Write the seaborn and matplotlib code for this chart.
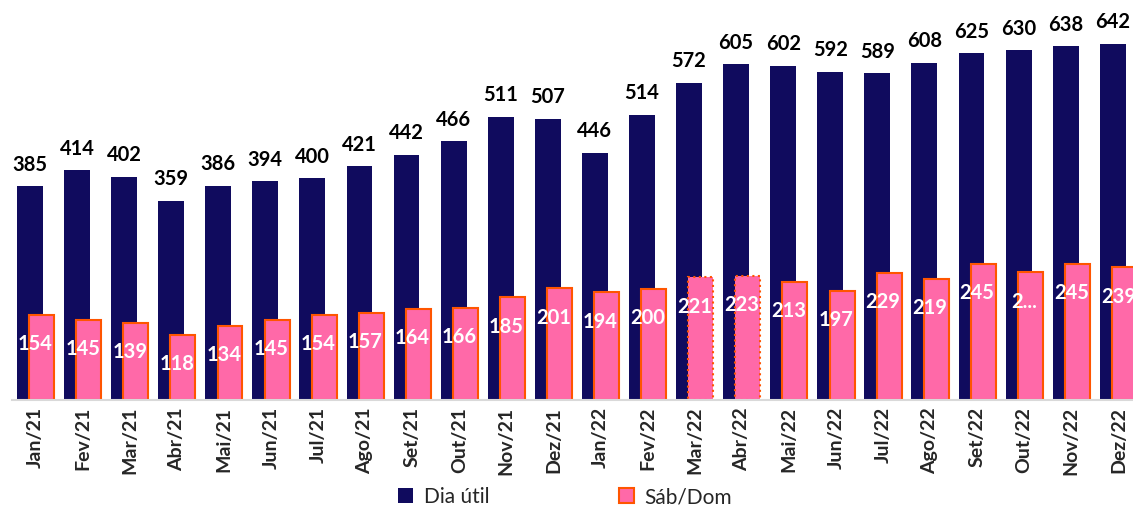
import numpy as np
import pandas as pd
import matplotlib
matplotlib.use("Agg")
import matplotlib.pyplot as plt
import seaborn as sns
from matplotlib.patches import Patch

meses = ['Jan/21', 'Fev/21', 'Mar/21', 'Abr/21', 'Mai/21', 'Jun/21', 'Jul/21', 'Ago/21',
         'Set/21', 'Out/21', 'Nov/21', 'Dez/21', 'Jan/22', 'Fev/22', 'Mar/22', 'Abr/22',
         'Mai/22', 'Jun/22', 'Jul/22', 'Ago/22', 'Set/22', 'Out/22', 'Nov/22', 'Dez/22']
dia_util = [385, 414, 402, 359, 386, 394, 400, 421, 442, 466, 511, 507,
            446, 514, 572, 605, 602, 592, 589, 608, 625, 630, 638, 642]
sab_dom = [154, 145, 139, 118, 134, 145, 154, 157, 164, 166, 185, 201,
           194, 200, 221, 223, 213, 197, 229, 219, 245, 230, 245, 239]
# rotulo cortado no original (Out/22)
rotulos_sab_dom = [str(v) for v in sab_dom]
rotulos_sab_dom[21] = '2...'

cor_util = '#100B5E'
cor_fds = '#FF69A8'
cor_borda = '#FF5500'

sns.set_style("white")
plt.rcParams['font.family'] = ['Lato', 'DejaVu Sans']

fig = plt.figure(figsize=(11.33, 5.09), dpi=100)
ax = fig.add_axes([12 / 1133, 109 / 509, 1121 / 1133, 400 / 509])

pos = np.arange(len(meses))
df = pd.DataFrame({'pos': pos, 'util': dia_util, 'fds': sab_dom})

sns.barplot(data=df.assign(x=pos - 0.12), x='x', y='util', native_scale=True,
            width=0.55, color=cor_util, saturation=1, edgecolor='none', ax=ax)
sns.barplot(data=df.assign(x=pos + 0.13), x='x', y='fds', native_scale=True,
            width=0.53, color=cor_fds, saturation=1, edgecolor=cor_borda,
            linewidth=1.5, ax=ax)

# Mar/22 e Abr/22 com borda pontilhada
for i in (14, 15):
    ax.containers[1][i].set_linestyle(':')

for i in range(len(meses)):
    ax.annotate(str(dia_util[i]), (pos[i] - 0.12, dia_util[i]), xytext=(0, 15.5),
                textcoords='offset points', ha='center', va='center',
                fontsize=14.5, fontweight='bold', color='black')
    ax.annotate(rotulos_sab_dom[i], (pos[i], sab_dom[i]), xytext=(0, -21),
                textcoords='offset points', ha='center', va='center',
                fontsize=14.5, fontweight='bold', color='white')

ax.set_xticks(pos)
ax.set_xticklabels(meses, rotation=90, fontsize=14, fontweight='bold')
ax.set_xticks(np.arange(-0.5, 24, 1), minor=True)
ax.tick_params(axis='x', which='major', length=0, pad=5)
ax.tick_params(axis='x', which='minor', length=6, width=1.5, color='#D9D9D9')
ax.set_yticks([])
ax.set_xlim(-0.5, 23.31)
ax.set_ylim(0, 721)
ax.set_xlabel('')
ax.set_ylabel('')
for s in ['top', 'right', 'left']:
    ax.spines[s].set_visible(False)
ax.spines['bottom'].set_color('#D9D9D9')
ax.spines['bottom'].set_linewidth(1.5)

handles = [Patch(facecolor=cor_util, edgecolor='none', label='Dia útil'),
           Patch(facecolor=cor_fds, edgecolor=cor_borda, linewidth=1.5, label='Sáb/Dom')]
fig.legend(handles=handles, loc='center', bbox_to_anchor=(565 / 1133, 12 / 509),
           ncol=2, frameon=False, fontsize=15, handlelength=0.75, handleheight=0.75,
           handletextpad=0.5, columnspacing=6.2)

fig.savefig('out.png', dpi=100)
